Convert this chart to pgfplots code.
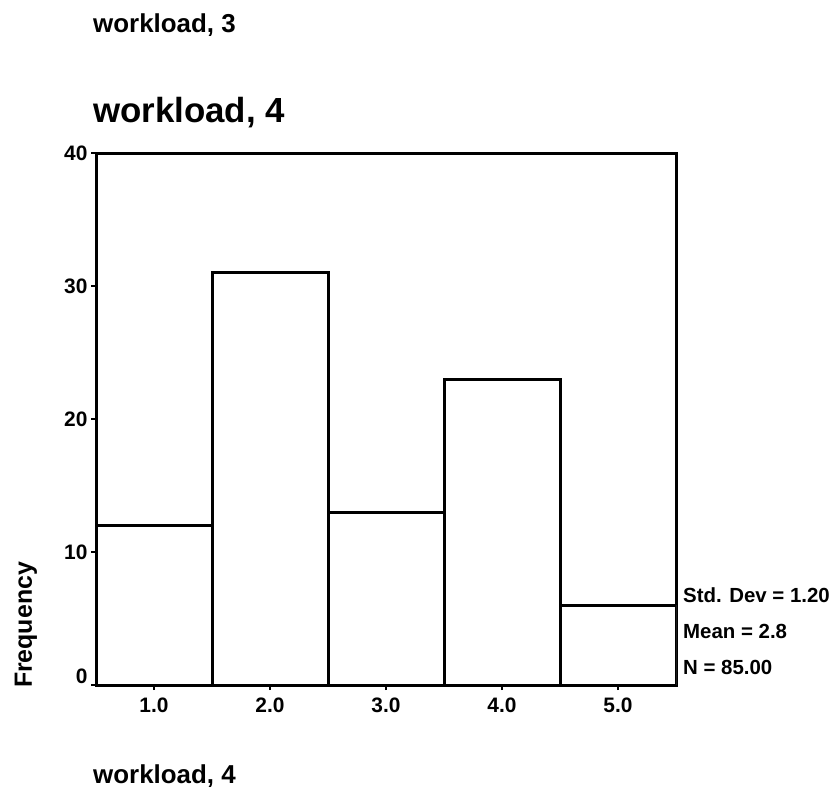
\documentclass[border=0pt]{standalone}
\usepackage{pgfplots}
\pgfplotsset{compat=1.18}
\usepackage{fontspec}
\setmainfont{Liberation Sans}

\begin{document}
\begin{tikzpicture}[x=1bp,y=1bp]
\useasboundingbox (0,0) rectangle (834,-790);
\begin{axis}[
  at={(96bp,-685bp)}, anchor=south west,
  scale only axis, width=580bp, height=532bp,
  xmin=0.5, xmax=5.5, ymin=0, ymax=40,
  xtick={1,2,3,4,5}, xticklabels={1.0,2.0,3.0,4.0,5.0},
  ytick={10,20,30,40},
  extra y ticks={0},
  extra y tick style={yticklabel style={yshift=9bp}},
  tick pos=left, tick align=outside,
  major tick length=5bp,
  every tick/.style={black, line width=2bp},
  axis line style={line width=3bp},
  ticklabel style={font=\bfseries\fontsize{21}{21}\selectfont},
  xticklabel style={yshift=-4bp},
  /pgf/number format/assume math mode=true,
]
\addplot[ybar, bar width=1, fill=white, draw=black, line width=3bp]
  coordinates {(1,12) (2,31) (3,13) (4,23) (5,6)};
\end{axis}
\node[anchor=base west, inner sep=0, font=\bfseries\fontsize{26}{26}\selectfont] at (93,-33) {workload, 3};
\node[anchor=base west, inner sep=0, font=\bfseries\fontsize{35}{35}\selectfont] at (93,-122) {workload, 4};
\node[anchor=base west, inner sep=0, font=\bfseries\fontsize{26}{26}\selectfont] at (93,-783) {workload, 4};
\node[rotate=90, inner sep=0, font=\bfseries\fontsize{25}{25}\selectfont] at (26,-625) {Frequency};
\node[anchor=base west, inner sep=0, font=\bfseries\fontsize{20.5}{20.5}\selectfont] at (683,-602) {Std. Dev = 1.20};
\node[anchor=base west, inner sep=0, font=\bfseries\fontsize{20.5}{20.5}\selectfont] at (683,-638) {Mean = 2.8};
\node[anchor=base west, inner sep=0, font=\bfseries\fontsize{20.5}{20.5}\selectfont] at (683,-674) {N = 85.00};
\end{tikzpicture}
\end{document}
